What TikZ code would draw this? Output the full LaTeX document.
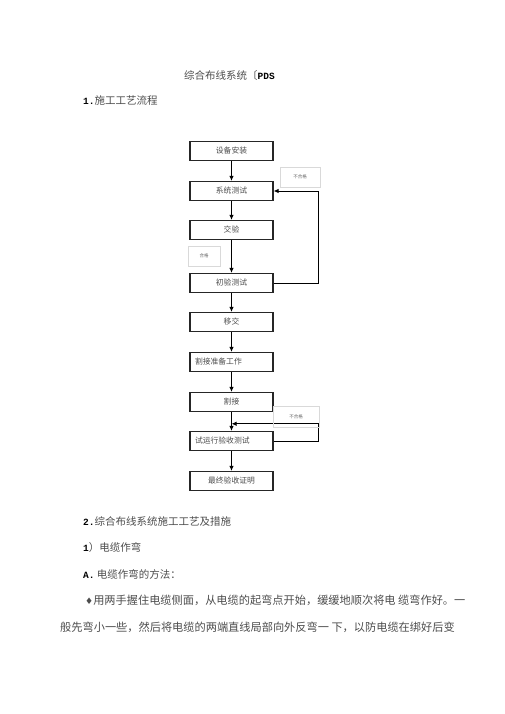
\documentclass[tikz,border=0pt]{standalone}
\usepackage{fontspec}
\setmainfont{Noto Sans CJK SC}
\newfontfamily\numfont{Liberation Mono}
\newfontfamily\symfont{DejaVu Sans}
\newcommand{\numb}[1]{{\numfont\bfseries\fontsize{9.5}{11}\selectfont\color{black}#1}}
\usetikzlibrary{arrows.meta,calc}

\begin{document}
\begin{tikzpicture}[x=1pt, y=-1pt]
	\tikzstyle{stage} = [rectangle, draw=black!85, line width=1.1pt, minimum height=19pt, text width=73pt, inner xsep=5pt, font=\fontsize{7.8}{9}\selectfont, text=black!70]
	\tikzstyle{tag}   = [rectangle, draw=black!15, line width=0.6pt, font=\fontsize{4.5}{5}\selectfont, text=black!60]
	\tikzstyle{flow}  = [-{Latex[length=5pt,width=4.5pt]}, line width=1pt]
	\tikzstyle{para}  = [anchor=west, inner sep=0pt, font=\fontsize{10.5}{12}\selectfont, text=black!70]

	\useasboundingbox (0,0) rectangle (505,714);

	% titles
	\node[para] (title) at (184,76) {综合布线系统〔\numb{PDS}};
	\node[para] (head1) at (83,101) {\numb{1.}施工工艺流程};

	% process stages
	\foreach \name/\y/\txt/\al in {s1/151/设备安装/center, s2/191/系统测试/center, s3/230/交验/center, s4/283/初验测试/center, s5/322/移交/center, s6/362/割接准备工作/left, s7/402/割接/center, s8/441/试运行验收测试/left, s9/481/最终验收证明/center}
		\node[stage, align=\al] (\name) at (231.5,\y) {\txt};

	\foreach \from/\to in {s1/s2, s2/s3, s3/s4, s4/s5, s5/s6, s6/s7, s7/s8, s8/s9}
		\draw[flow] (\from) -- (\to);

	% feedback loops
	\coordinate (merge) at ($(s7.south)!0.62!(s8.north)$);
	\draw[flow] (s4.east) -- ++(45,0) |- (s2.east);
	\draw[flow] (s8.east) -- ++(45,0) |- (merge);

	\node[tag, minimum width=40pt, minimum height=20pt] (t1) at (300,177) {不合格};
	\node[tag, minimum width=32pt, minimum height=20pt] (t2) at (204,256) {合格};
	\node[tag, minimum width=46pt, minimum height=21pt] (t3) at (296,417) {不合格};

	% text below
	\node[para] (head2) at (83,521) {\numb{2.}综合布线系统施工工艺及措施};
	\node[para] (head3) at (83,548) {\numb{1}）电缆作弯};
	\node[para] (head4) at (83,574) {\numb{A.} 电缆作弯的方法：};
	\node[para, font=\fontsize{11.2}{13}\selectfont] (line1) at (85,600) {{\symfont\small ♦}用两手握住电缆侧面，从电缆的起弯点开始，缓缓地顺次将电 缆弯作好。一};
	\node[para, font=\fontsize{11.2}{13}\selectfont] (line2) at (60,627) {般先弯小一些，然后将电缆的两端直线局部向外反弯一 下，以防电缆在绑好后变};
\end{tikzpicture}
\end{document}
